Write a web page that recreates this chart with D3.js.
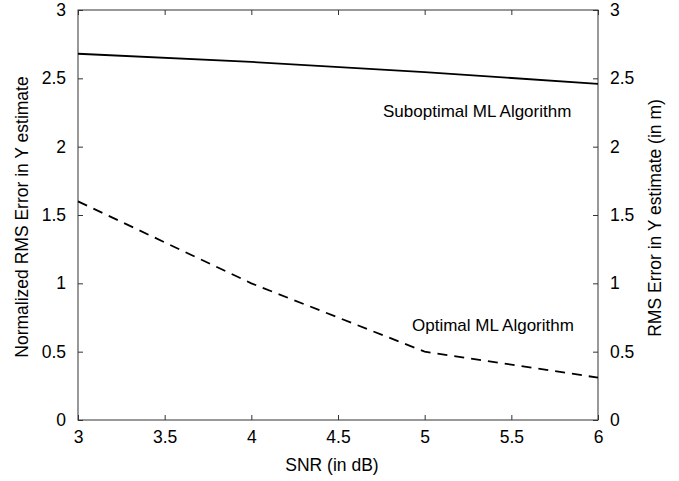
<!DOCTYPE html>
<html>
<head>
<meta charset="utf-8">
<script src="https://cdn.jsdelivr.net/npm/d3@7"></script>
<style>
  body { margin: 0; background: #fff; }
  svg { font-family: "Liberation Sans", Arial, sans-serif; }
</style>
</head>
<body>
<svg id="chart" width="679" height="481"></svg>
<script>
// data
let snr = [3, 4, 5, 6];
let suboptimal = [2.68, 2.62, 2.545, 2.46];
let optimal = [1.6, 1.0, 0.5, 0.31];
let xTicks = [3, 3.5, 4, 4.5, 5, 5.5, 6];
let yTicks = [0, 0.5, 1, 1.5, 2, 2.5, 3];

let margin = { top: 10, right: 81, bottom: 61, left: 78 };
let width = 679 - margin.left - margin.right;
let height = 481 - margin.top - margin.bottom;

let svg = d3.select("#chart");
let g = svg.append("g").attr("transform", `translate(${margin.left},${margin.top})`);

let x = d3.scaleLinear().domain([3, 6]).range([0, width]);
let y = d3.scaleLinear().domain([0, 3]).range([height, 0]);

let fmt = d3.format("");
let axisStyle = (sel) => {
    sel.attr("font-size", null).attr("font-family", null);
    sel.selectAll(".domain").remove();
    sel.selectAll("line").attr("stroke", "#333");
    sel.selectAll("text").attr("fill", "#000").style("font-size", "17.5px");
};

// bottom, top, left, right axes with inward ticks
g.append("g").attr("transform", `translate(0,${height})`)
    .call(d3.axisBottom(x).tickValues(xTicks).tickFormat(fmt).tickSizeInner(-5).tickSizeOuter(0).tickPadding(11))
    .call(axisStyle);
g.append("g")
    .call(d3.axisTop(x).tickValues(xTicks).tickFormat("").tickSizeInner(-5).tickSizeOuter(0))
    .call(axisStyle);
g.append("g")
    .call(d3.axisLeft(y).tickValues(yTicks).tickFormat(fmt).tickSizeInner(-5).tickSizeOuter(0).tickPadding(12))
    .call(axisStyle);
g.append("g").attr("transform", `translate(${width},0)`)
    .call(d3.axisRight(y).tickValues(yTicks).tickFormat(fmt).tickSizeInner(-5).tickSizeOuter(0).tickPadding(12))
    .call(axisStyle);

g.append("rect")
    .attr("width", width).attr("height", height)
    .attr("fill", "none").attr("stroke", "#333").attr("stroke-width", 1);

let line = (vals) => d3.line().x((d, i) => x(snr[i])).y((d) => y(d))(vals);

g.append("path").attr("d", line(suboptimal))
    .attr("fill", "none").attr("stroke", "#000").attr("stroke-width", 1.8);
g.append("path").attr("d", line(optimal))
    .attr("fill", "none").attr("stroke", "#000").attr("stroke-width", 1.8)
    .attr("stroke-dasharray", "10,7");

svg.append("text").attr("x", 383).attr("y", 117)
    .style("font-size", "17px").text("Suboptimal ML Algorithm");
svg.append("text").attr("x", 412).attr("y", 331)
    .style("font-size", "17px").text("Optimal ML Algorithm");

// axis titles
svg.append("text").attr("x", 332).attr("y", 471)
    .attr("text-anchor", "middle").style("font-size", "17.5px").text("SNR (in dB)");
svg.append("text").attr("transform", "translate(28,217) rotate(-90)")
    .attr("text-anchor", "middle").style("font-size", "17.5px").text("Normalized RMS Error in Y estimate");
svg.append("text").attr("transform", "translate(661,218) rotate(-90)")
    .attr("text-anchor", "middle").style("font-size", "17.5px").text("RMS Error in Y estimate (in m)");
</script>
</body>
</html>
